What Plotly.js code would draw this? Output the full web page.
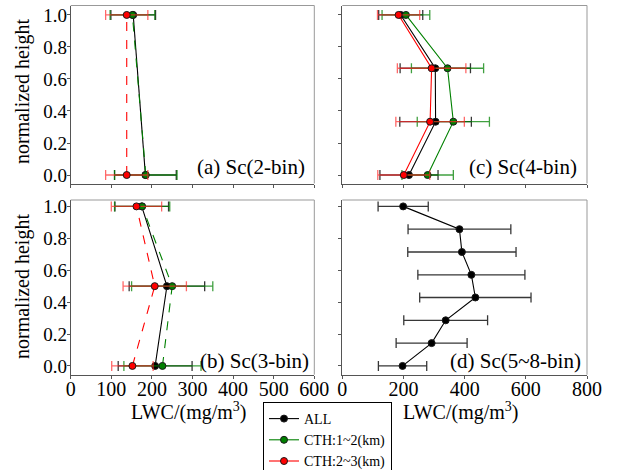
<!DOCTYPE html>
<html>
<head>
<meta charset="utf-8">
<script src="https://cdn.plot.ly/plotly-3.0.1.min.js"></script>
<style>html,body{margin:0;padding:0;background:#fff}#chart{width:617px;height:470px}</style>
</head>
<body>
<div id="chart"></div>
<script>
// ---- data ----
var seriesNames = ["ALL", "CTH:1~2(km)", "CTH:2~3(km)"];
var xTicksLeft = [0, 100, 200, 300, 400, 500, 600];
var xTicksRight = [0, 200, 400, 600, 800];
var yTicks = [0.0, 0.2, 0.4, 0.6, 0.8, 1.0];

// (a) Sc(2-bin)
var hA = [0.0, 1.0];
var aAll = [184, 154];   var aAllErr = [76, 55];
var aG = [185, 152];     var aGErr = [77, 55];
var aR = [138, 138];     var aRErr = [52, 52];

// (b) Sc(3-bin)
var hB = [0.0, 0.5, 1.0];
var bAll = [208, 237, 175]; var bAllErr = [91, 93, 66];
var bG = [226, 250, 176];   var bGErr = [95, 100, 68];
var bR = [152, 207, 162];   var bRErr = [51, 78, 62];

// (c) Sc(4-bin)
var hC = [0.0, 0.333, 0.667, 1.0];
var cAll = [218, 305, 304, 191]; var cAllErr = [95, 117, 115, 72];
var cG = [279, 363, 344, 208];   var cGErr = [84, 118, 118, 78];
var cR = [201, 287, 292, 184];   var cRErr = [85, 112, 112, 69];

// (d) Sc(5~8-bin)
var hD = [0.0, 0.143, 0.286, 0.429, 0.571, 0.714, 0.857, 1.0];
var dAll = [197, 292, 338, 435, 422, 391, 383, 199];
var dAllErr = [79, 116, 137, 182, 175, 177, 168, 82];

var panelLabels = ["(a) Sc(2-bin)", "(b) Sc(3-bin)", "(c) Sc(4-bin)", "(d) Sc(5~8-bin)"];
var xTitle = "LWC/(mg/m<sup>3</sup>)";
var yTitle = "normalized height";

// ---- styles ----
var FONT = "Liberation Serif";
var colors = {all: "#000000", g: "#008000", r: "#ff0000"};
var errColors = {all: "rgba(20,20,20,0.85)", g: "rgba(0,128,0,0.75)", r: "rgba(255,40,40,0.7)"};

function tr(x, y, err, key, name, xa, ya, dash, showleg) {
  return {
    type: "scatter", mode: "lines+markers",
    x: x, y: y, xaxis: xa, yaxis: ya,
    name: name, showlegend: showleg, legendgroup: name,
    line: {color: colors[key], width: 1.1, dash: dash},
    marker: {color: colors[key], size: 7, line: {color: "#1a1a1a", width: 1}},
    error_x: {type: "data", array: err, color: errColors[key], thickness: 1.3, width: 5}
  };
}

var data = [
  tr(aAll, hA, aAllErr, "all", seriesNames[0], "x", "y", "solid", false),
  tr(aG, hA, aGErr, "g", seriesNames[1], "x", "y", "dash", false),
  tr(aR, hA, aRErr, "r", seriesNames[2], "x", "y", "dash", false),
  tr(bAll, hB, bAllErr, "all", seriesNames[0], "x2", "y2", "solid", false),
  tr(bG, hB, bGErr, "g", seriesNames[1], "x2", "y2", "dash", false),
  tr(bR, hB, bRErr, "r", seriesNames[2], "x2", "y2", "dash", false),
  tr(cAll, hC, cAllErr, "all", seriesNames[0], "x3", "y3", "solid", true),
  tr(cG, hC, cGErr, "g", seriesNames[1], "x3", "y3", "solid", true),
  tr(cR, hC, cRErr, "r", seriesNames[2], "x3", "y3", "solid", true),
  tr(dAll, hD, dAllErr, "all", seriesNames[0], "x4", "y4", "solid", false)
];

var W = 617, H = 470;
function px(v) { return v / W; }
function py(v) { return 1 - v / H; }

var xLeftDom = [px(70.7), px(314.3)];
var xRightDom = [px(342.3), px(587)];
var yTopDom = [py(183.5), py(5.5)];
var yBotDom = [py(374.7), py(200)];

function xax(dom, anchor, range, ticks, showLabels) {
  return {
    domain: dom, anchor: anchor, range: range,
    tickmode: "array", tickvals: ticks, ticktext: ticks.map(String),
    showticklabels: showLabels, ticks: "outside", ticklen: 3, tickwidth: 1, tickcolor: "#555",
    ticklabelstandoff: -7,
    showline: true, linecolor: "#555", linewidth: 1, mirror: false,
    showgrid: false, zeroline: false,
    tickfont: {family: FONT, size: 20, color: "#000"}
  };
}
function yax(dom, anchor, range, showLabels) {
  return {
    domain: dom, anchor: anchor, range: range,
    tickmode: "array", tickvals: yTicks, ticktext: yTicks.map(function (v) { return v.toFixed(1); }),
    showticklabels: showLabels, ticks: "outside", ticklen: 3, tickwidth: 1, tickcolor: "#555",
    ticklabelstandoff: -4,
    showline: true, linecolor: "#555", linewidth: 1, mirror: false,
    showgrid: false, zeroline: false,
    tickfont: {family: FONT, size: 19, color: "#000"}
  };
}

var yRangeTop = [-0.053, 1.059];
var yRangeBot = [-0.055, 1.04];

// frame (top and right borders)
var shapes = [];
[["x", "y"], ["x2", "y2"], ["x3", "y3"], ["x4", "y4"]].forEach(function (p) {
  shapes.push({type: "line", xref: p[0] + " domain", yref: p[1] + " domain", x0: 0, x1: 1, y0: 1, y1: 1,
    line: {color: "#999", width: 1}});
  shapes.push({type: "line", xref: p[0] + " domain", yref: p[1] + " domain", x0: 1, x1: 1, y0: 0, y1: 1,
    line: {color: "#999", width: 1}});
});

var annFont = {family: FONT, size: 21, color: "#000"};
var annotations = [
  {text: panelLabels[0], xref: "paper", yref: "paper", x: px(307), y: py(167), xanchor: "right", yanchor: "middle", showarrow: false, font: annFont},
  {text: panelLabels[1], xref: "paper", yref: "paper", x: px(311), y: py(361), xanchor: "right", yanchor: "middle", showarrow: false, font: annFont},
  {text: panelLabels[2], xref: "paper", yref: "paper", x: px(579), y: py(167), xanchor: "right", yanchor: "middle", showarrow: false, font: annFont},
  {text: panelLabels[3], xref: "paper", yref: "paper", x: px(583), y: py(361), xanchor: "right", yanchor: "middle", showarrow: false, font: annFont},
  {text: xTitle, xref: "paper", yref: "paper", x: px(189), y: py(411), xanchor: "center", yanchor: "middle", showarrow: false, font: {family: FONT, size: 20, color: "#000"}},
  {text: xTitle, xref: "paper", yref: "paper", x: px(461), y: py(411), xanchor: "center", yanchor: "middle", showarrow: false, font: {family: FONT, size: 20, color: "#000"}},
  {text: yTitle, xref: "paper", yref: "paper", x: px(22), y: py(92), xanchor: "center", yanchor: "middle", textangle: -90, showarrow: false, font: {family: FONT, size: 20, color: "#000"}},
  {text: yTitle, xref: "paper", yref: "paper", x: px(22), y: py(287), xanchor: "center", yanchor: "middle", textangle: -90, showarrow: false, font: {family: FONT, size: 20, color: "#000"}}
];

var layout = {
  width: W, height: H,
  margin: {l: 0, r: 0, t: 0, b: 0, pad: 0, autoexpand: false},
  paper_bgcolor: "#fff", plot_bgcolor: "#fff",
  showlegend: true,
  legend: {x: px(263), y: py(402), xanchor: "left", yanchor: "top",
    bordercolor: "#000", borderwidth: 1, bgcolor: "#fff",
    font: {family: FONT, size: 14, color: "#000"}, tracegroupgap: 0, itemwidth: 30},
  xaxis: xax(xLeftDom, "y", [0, 600], xTicksLeft, false),
  yaxis: yax(yTopDom, "x", yRangeTop, true),
  xaxis2: xax(xLeftDom, "y2", [0, 600], xTicksLeft, true),
  yaxis2: yax(yBotDom, "x2", yRangeBot, true),
  xaxis3: xax(xRightDom, "y3", [0, 800], xTicksRight, false),
  yaxis3: yax(yTopDom, "x3", yRangeTop, false),
  xaxis4: xax(xRightDom, "y4", [0, 800], xTicksRight, true),
  yaxis4: yax(yBotDom, "x4", yRangeBot, false),
  shapes: shapes,
  annotations: annotations
};

Plotly.newPlot("chart", data, layout, {displayModeBar: false, staticPlot: true});
</script>
</body>
</html>
